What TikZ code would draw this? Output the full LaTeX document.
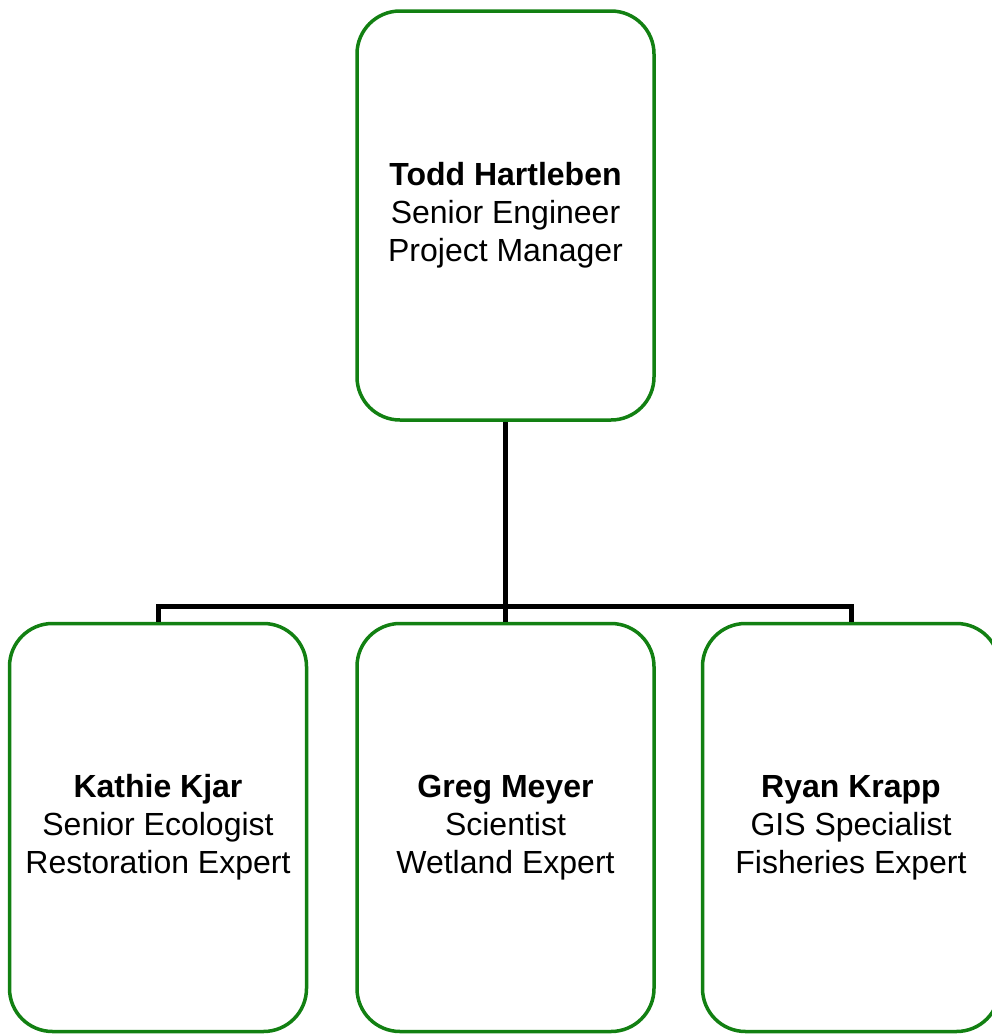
\documentclass[tikz,border=0pt]{standalone}
\usepackage{fontspec}
\setmainfont{Liberation Sans}
\usepackage{tikz}
\usetikzlibrary{positioning}

\definecolor{boxgreen}{RGB}{18,128,18}

\begin{document}
\begin{tikzpicture}[
    x=1pt, y=-1pt,
    node distance=200pt and 47pt,
    person/.style={rectangle, draw=boxgreen, line width=3.5pt, rounded corners=43pt, fill=white, minimum width=297pt, minimum height=408pt, align=center, font=\fontsize{32}{38}\selectfont},
    link/.style={draw=black, line width=5pt}
]
    \useasboundingbox (0,0) rectangle (992,1034);

    \node[person, minimum height=409pt] (todd) at (505.5,215.5) {\textbf{Todd Hartleben}\\Senior Engineer\\Project Manager};
    \node[person, below=of todd] (greg) {\textbf{Greg Meyer}\\Scientist\\Wetland Expert};
    \node[person, left=of greg] (kathie) {\textbf{Kathie Kjar}\\Senior Ecologist\\Restoration Expert};
    \node[person, right=45pt of greg] (ryan) {\textbf{Ryan Krapp}\\GIS Specialist\\Fisheries Expert};

    \coordinate (bar) at (506,606);

    \draw[link] (todd) -- (greg);
    \draw[link] (kathie.north) |- (bar) -| (ryan.north);

\end{tikzpicture}
\end{document}
